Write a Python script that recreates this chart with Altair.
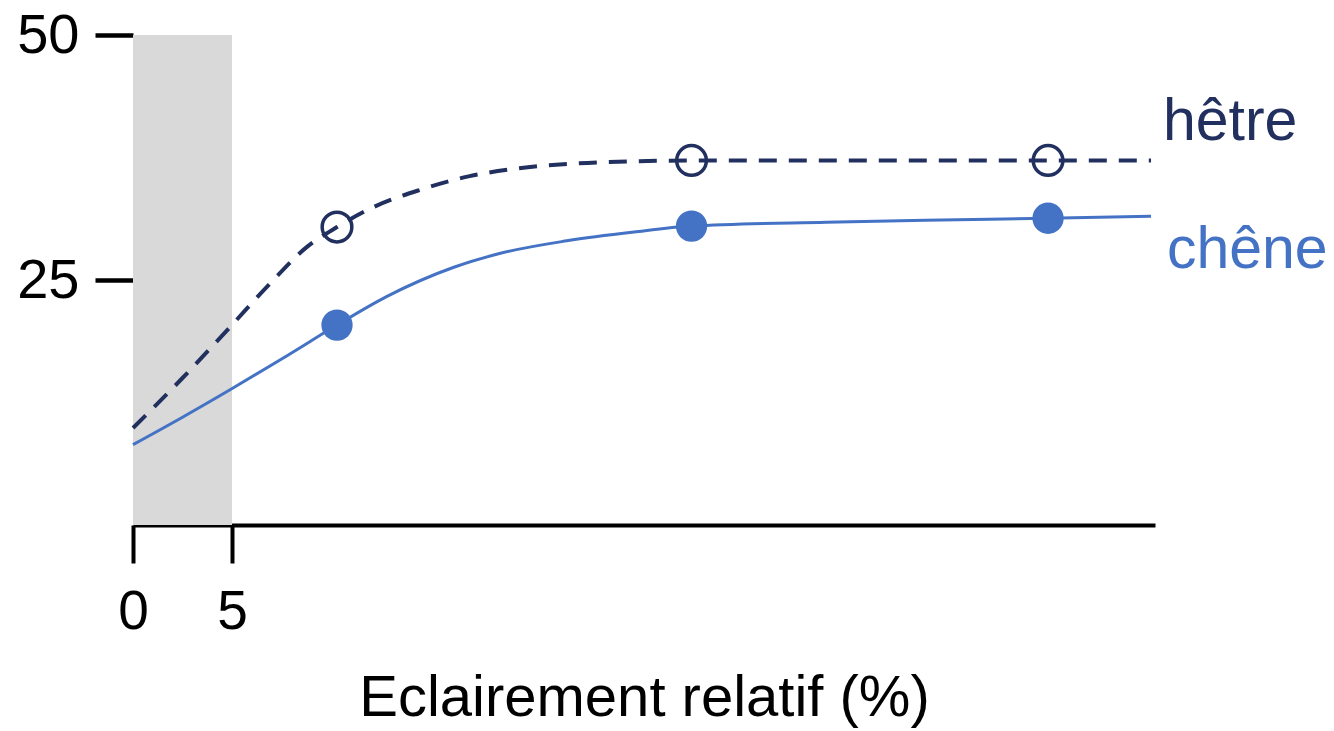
import altair as alt
import pandas as pd

# Fitted growth curves (relative light in %, growth value)
hetre_curve_x = [0, 2.5, 4.9, 6.9, 8.8, 10.3, 12.1, 14.5, 17.0, 19.5, 22.5, 25.3, 28.2, 35.0, 46.2, 51.4]
hetre_curve_y = [9.9, 15.0, 20.2, 24.6, 28.4, 30.4, 32.4, 34.2, 35.6, 36.4, 36.9, 37.1, 37.2, 37.2, 37.2, 37.2]

chene_curve_x = [0, 2.5, 4.9, 7.8, 10.3, 12.8, 16.2, 18.5, 21.9, 25.3, 28.2, 35.0, 40.0, 46.2, 51.4]
chene_curve_y = [8.2, 11.0, 13.8, 17.3, 20.4, 23.3, 26.3, 27.7, 29.0, 29.9, 30.5, 30.9, 31.1, 31.3, 31.5]

# Measured values
obs_x = [10.3, 28.2, 46.2]
hetre_obs_y = [30.4, 37.2, 37.2]
chene_obs_y = [20.4, 30.5, 31.3]

# Deep-shade band
shade_x = [0, 5]
shade_y = [0, 50]

labels = ["hêtre", "chêne"]
label_x = [52.0, 52.2]
label_y = [41.1, 28.1]

HETRE = "#22305f"
CHENE = "#4472c4"

x_scale = alt.Scale(domain=[0, 51.6], nice=False, zero=False)
y_scale = alt.Scale(domain=[0, 50], nice=False)

shade_df = pd.DataFrame({"x0": [shade_x[0]], "x1": [shade_x[1]], "y0": [shade_y[0]], "y1": [shade_y[1]]})
hetre_df = pd.DataFrame({"x": hetre_curve_x, "y": hetre_curve_y})
chene_df = pd.DataFrame({"x": chene_curve_x, "y": chene_curve_y})
hetre_pts = pd.DataFrame({"x": obs_x, "y": hetre_obs_y})
chene_pts = pd.DataFrame({"x": obs_x, "y": chene_obs_y})
label_df = pd.DataFrame({"label": labels, "x": label_x, "y": label_y, "c": [HETRE, CHENE]})

x_axis = alt.Axis(
    values=[0, 5], title="Eclairement relatif (%)", grid=False,
    domainColor="black", domainWidth=4, tickColor="black", tickWidth=4, tickSize=38,
    labelFontSize=55, labelPadding=22, labelColor="black", labelFlush=False,
    titleFontSize=58, titleFontWeight="normal", titleColor="black", titlePadding=30,
)
y_axis = alt.Axis(
    values=[25, 50], title=None, grid=False, domain=False,
    tickColor="black", tickWidth=4.5, tickSize=38,
    labelFontSize=56, labelPadding=16, labelColor="black",
)

shade = alt.Chart(shade_df).mark_rect(color="#d9d9d9").encode(
    x=alt.X("x0:Q", scale=x_scale, axis=x_axis),
    x2="x1:Q",
    y=alt.Y("y0:Q", scale=y_scale, axis=y_axis),
    y2="y1:Q",
)

hetre_line = alt.Chart(hetre_df).mark_line(
    color=HETRE, strokeWidth=4, strokeDash=[18, 12], interpolate="monotone"
).encode(x=alt.X("x:Q", scale=x_scale), y=alt.Y("y:Q", scale=y_scale))

chene_line = alt.Chart(chene_df).mark_line(
    color=CHENE, strokeWidth=3, interpolate="monotone"
).encode(x=alt.X("x:Q", scale=x_scale), y=alt.Y("y:Q", scale=y_scale))

hetre_marks = alt.Chart(hetre_pts).mark_point(
    shape="circle", filled=False, color=HETRE, strokeWidth=3.5, size=880, opacity=1
).encode(x=alt.X("x:Q", scale=x_scale), y=alt.Y("y:Q", scale=y_scale))

chene_marks = alt.Chart(chene_pts).mark_circle(
    color=CHENE, size=980, opacity=1
).encode(x=alt.X("x:Q", scale=x_scale), y=alt.Y("y:Q", scale=y_scale))

names = alt.Chart(label_df).mark_text(
    align="left", baseline="middle", fontSize=59
).encode(
    x=alt.X("x:Q", scale=x_scale),
    y=alt.Y("y:Q", scale=y_scale),
    text="label:N",
    color=alt.Color("c:N", scale=None),
)

chart = (
    alt.layer(shade, hetre_line, chene_line, hetre_marks, chene_marks, names)
    .properties(
        width=1022,
        height=490,
        autosize=alt.AutoSizeParams(type="none"),
        padding={"left": 133, "top": 35, "right": 179, "bottom": 206},
        background="white",
    )
    .configure(font="Liberation Sans")
    .configure_view(stroke=None, strokeWidth=0)
)

chart.save("out.html", embed_options={"renderer": "svg", "actions": False})
